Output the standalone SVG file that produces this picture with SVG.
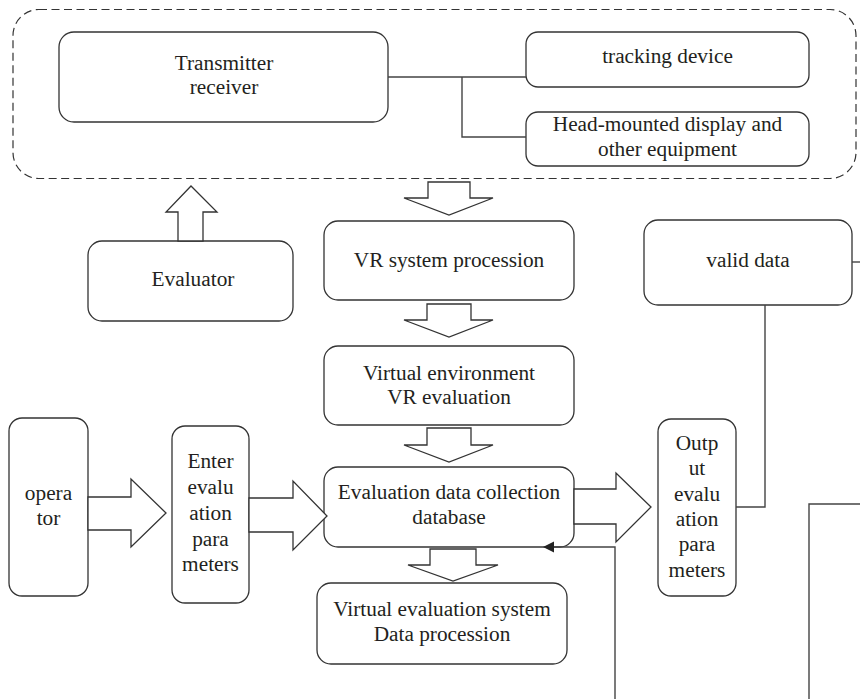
<svg xmlns="http://www.w3.org/2000/svg" width="860" height="699" viewBox="0 0 860 699">
  <style>
    .box { fill: #ffffff; stroke: #333333; stroke-width: 1.3; }
    .blk { fill: #ffffff; stroke: #333333; stroke-width: 1.3; stroke-linejoin: miter; }
    .wire { fill: none; stroke: #444444; stroke-width: 1.4; }
    .lbl { font-family: "Liberation Serif", "Times New Roman", serif; font-size: 21.3px; fill: #231f20; text-anchor: middle; }
  </style>
  <rect width="860" height="699" fill="#ffffff"/>

  <!-- equipment boundary -->
  <rect id="equipment-group" x="13" y="9.5" width="843" height="169" rx="26" fill="none" stroke="#333333" stroke-width="1.2" stroke-dasharray="8 4.5"/>

  <g id="transmitter-receiver">
    <rect class="box" x="59" y="32" width="329" height="90" rx="15"/>
    <text class="lbl" x="224" y="70">Transmitter</text>
    <text class="lbl" x="224" y="94">receiver</text>
  </g>

  <g id="tracking-device">
    <rect class="box" x="526" y="32" width="283" height="55" rx="12"/>
    <text class="lbl" x="667.5" y="63">tracking device</text>
  </g>

  <g id="head-mounted-display">
    <rect class="box" x="526" y="112" width="283" height="54" rx="12"/>
    <text class="lbl" x="667.5" y="131">Head-mounted display and</text>
    <text class="lbl" x="667.5" y="156">other equipment</text>
  </g>

  <g id="evaluator">
    <rect class="box" x="88" y="241" width="205" height="80" rx="14"/>
    <text class="lbl" x="193" y="286">Evaluator</text>
  </g>

  <g id="vr-system-procession">
    <rect class="box" x="324" y="221" width="250" height="79" rx="14"/>
    <text class="lbl" x="449" y="267">VR system procession</text>
  </g>

  <g id="valid-data">
    <rect class="box" x="644" y="220" width="208" height="85" rx="14"/>
    <text class="lbl" x="748" y="267">valid data</text>
  </g>

  <g id="virtual-environment">
    <rect class="box" x="324" y="346" width="250" height="79" rx="14"/>
    <text class="lbl" x="449" y="380">Virtual environment</text>
    <text class="lbl" x="449" y="404">VR evaluation</text>
  </g>

  <g id="operator">
    <rect class="box" x="9" y="418" width="79" height="178" rx="13"/>
    <text class="lbl" x="48.5" y="500">opera</text>
    <text class="lbl" x="48.5" y="525">tor</text>
  </g>

  <g id="enter-evaluation-parameters">
    <rect class="box" x="172" y="426" width="77" height="177" rx="13"/>
    <text class="lbl" x="210.5" y="468">Enter</text>
    <text class="lbl" x="210.5" y="494">evalu</text>
    <text class="lbl" x="210.5" y="520">ation</text>
    <text class="lbl" x="210.5" y="546">para</text>
    <text class="lbl" x="210.5" y="571">meters</text>
  </g>

  <g id="evaluation-database">
    <rect class="box" x="324" y="467" width="250" height="80" rx="14"/>
    <text class="lbl" x="449" y="499">Evaluation data collection</text>
    <text class="lbl" x="449" y="524">database</text>
  </g>

  <g id="output-evaluation-parameters">
    <rect class="box" x="658" y="419" width="78" height="177" rx="13"/>
    <text class="lbl" x="697" y="450">Outp</text>
    <text class="lbl" x="697" y="475">ut</text>
    <text class="lbl" x="697" y="501">evalu</text>
    <text class="lbl" x="697" y="526">ation</text>
    <text class="lbl" x="697" y="551">para</text>
    <text class="lbl" x="697" y="577">meters</text>
  </g>

  <g id="data-procession">
    <rect class="box" x="317" y="583" width="250" height="81" rx="14"/>
    <text class="lbl" x="442" y="616">Virtual evaluation system</text>
    <text class="lbl" x="442" y="641">Data procession</text>
  </g>

  <!-- connectors: plain lines, block arrows and the feedback arrow -->
  <g id="connectors">
    <path class="wire" d="M388,77 H526 M462,77 V137 H526"/>
    <path class="wire" d="M736,507 H765 V305"/>
    <path class="wire" d="M852,262 H860"/>
    <path class="wire" d="M860,504 H809 V699"/>
    <path class="wire" d="M615,699 V547 H553"/>
    <polygon points="543,547 554,541.5 554,552.5" fill="#222222"/>
    <polygon class="blk" points="178,241 178,212 166,212 191,186 217,212 203,212 203,241"/>
    <polygon class="blk" points="428,182 470,182 470,198 493,198 449,215 404,198 428,198"/>
    <polygon class="blk" points="427,304 471,304 471,320 493,320 449,337 404,320 427,320"/>
    <polygon class="blk" points="427,428 471,428 471,445 493,445 449,462 404,445 427,445"/>
    <polygon class="blk" points="430,549 476,549 476,565 498,565 453,581 408,565 430,565"/>
    <polygon class="blk" points="88,497 131,497 131,479 166,513 131,547 131,530 88,530"/>
    <polygon class="blk" points="249,498 293,498 293,481 327,516 293,550 293,532 249,532"/>
    <polygon class="blk" points="574,489 616,489 616,473 651,507 616,542 616,524 574,524"/>
  </g>
</svg>
